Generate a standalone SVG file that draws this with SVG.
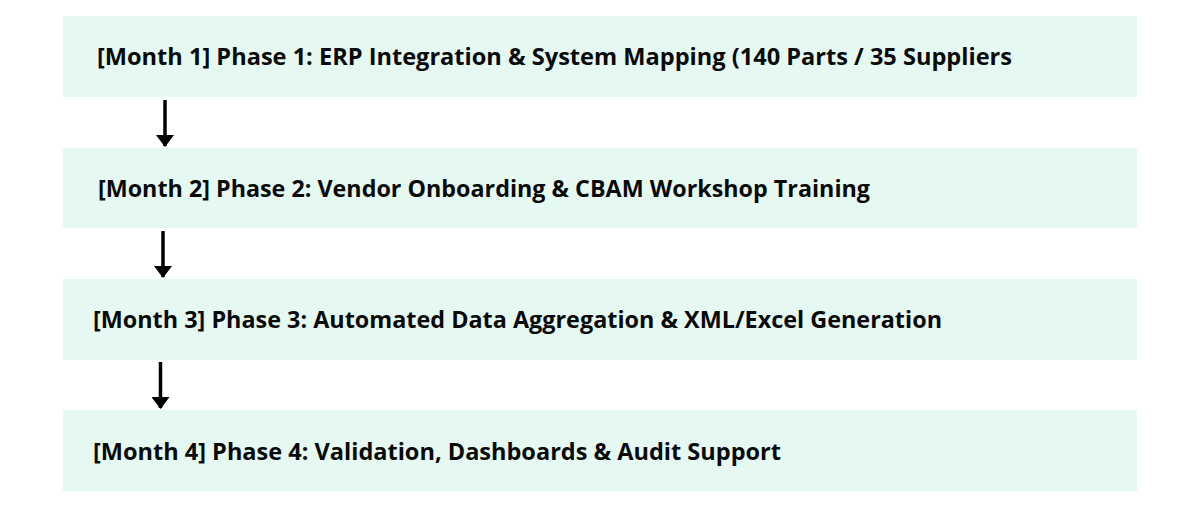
<svg xmlns="http://www.w3.org/2000/svg" width="1200" height="505" viewBox="0 0 1200 505">
<style>
.box{fill:#E5F8F1}
.lbl{font-family:"Open Sans","Noto Sans","Liberation Sans",sans-serif;font-weight:700;font-size:24px;fill:#0a0a0a}
.con{stroke:#000;stroke-width:3.5;fill:none}
</style>
<defs>
<marker id="ah" viewBox="0 0 12 18" refX="11" refY="9" markerUnits="userSpaceOnUse" markerWidth="12" markerHeight="18" orient="auto">
<path d="M0,0 L12,9 L0,18 Z" fill="#000"/>
</marker>
</defs>
<rect width="1200" height="505" fill="#fff"/>
<g id="phase1"><rect class="box" x="63" y="16" width="1074" height="81"/><text class="lbl" x="97" y="65" textLength="915" lengthAdjust="spacingAndGlyphs">[Month 1] Phase 1: ERP Integration &amp; System Mapping (140 Parts / 35 Suppliers</text></g>
<g id="phase2"><rect class="box" x="63" y="148" width="1074" height="80"/><text class="lbl" x="98" y="197" textLength="772" lengthAdjust="spacingAndGlyphs">[Month 2] Phase 2: Vendor Onboarding &amp; CBAM Workshop Training</text></g>
<g id="phase3"><rect class="box" x="63" y="279" width="1074" height="81"/><text class="lbl" x="93" y="328" textLength="849" lengthAdjust="spacingAndGlyphs">[Month 3] Phase 3: Automated Data Aggregation &amp; XML/Excel Generation</text></g>
<g id="phase4"><rect class="box" x="63" y="410" width="1074" height="81"/><text class="lbl" x="93" y="460" textLength="688" lengthAdjust="spacingAndGlyphs">[Month 4] Phase 4: Validation, Dashboards &amp; Audit Support</text></g>
<g id="connectors">
<line class="con" x1="165" y1="100" x2="165" y2="146" marker-end="url(#ah)"/>
<line class="con" x1="163" y1="231" x2="163" y2="277" marker-end="url(#ah)"/>
<line class="con" x1="160.5" y1="362" x2="160.5" y2="408" marker-end="url(#ah)"/>
</g>
</svg>
